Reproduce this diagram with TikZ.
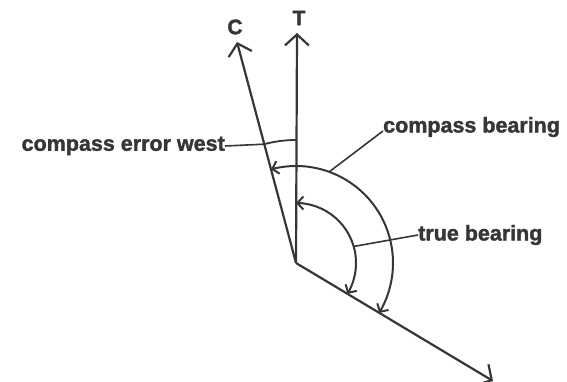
\documentclass[tikz,border=0pt]{standalone}
\usepackage{fontspec}
\setsansfont{Liberation Sans}[BoldFeatures={FakeBold=1.6}]
\usepackage{tikz}
\usetikzlibrary{arrows.meta,bending,positioning}
\definecolor{ink}{HTML}{363636}
\tikzset{
  axis/.style={draw=ink, line width=2.2pt, -{Straight Barb[length=11pt,width=24pt,line width=2.2pt]}},
  sweep/.style={draw=ink, line width=2pt, {Straight Barb[length=6pt,width=13pt,line width=2pt]}-{Straight Barb[length=6pt,width=13pt,line width=2pt]}},
  errarc/.style={draw=ink, line width=1.8pt},
  leader/.style={draw=ink, line width=1.6pt},
  lbl/.style={text=ink, inner sep=0pt, font=\sffamily\bfseries\fontsize{21.5}{24}\selectfont},
  dirlbl/.style={lbl, font=\sffamily\bfseries\fontsize{21}{24}\selectfont}
}
\begin{document}
\begin{tikzpicture}[x=1pt, y=1pt]
  \useasboundingbox (0,0) rectangle (567,382);
  \coordinate (o) at (296,119);
  \coordinate (ttip) at (297,349);
  \coordinate (ctip) at (237,340);
  \coordinate (btip) at (493,1);
  \draw[axis] (o) -- (ttip);
  \draw[axis] (o) -- (ctip);
  \draw[axis] (o) -- (btip);
  \node[dirlbl] (cl) at (235,355) {C};
  \node[dirlbl] (tl) at (299,364) {T};
  \draw[sweep] ([shift={(90:60)}]o) arc[start angle=90, end angle=-31, radius=60];
  \draw[sweep] ([shift={(105:97)}]o) arc[start angle=105, end angle=-31, radius=97];
  \draw[errarc] ([shift={(105:123)}]o) arc[start angle=105, end angle=90, radius=123];
  \coordinate (errfoot) at ([shift={(105:123)}]o);
  \coordinate (cbfoot) at ([shift={(70:97)}]o);
  \coordinate (tbfoot) at ([shift={(16:60)}]o);
  \node[lbl, anchor=east] (cew) at (225,236) {compass error west};
  \node[lbl, anchor=west] (cb) at (383,255) {compass bearing};
  \node[lbl, anchor=west] (tb) at (418,147) {true bearing};
  \draw[leader] (cew.east) -- (errfoot);
  \draw[leader] (cbfoot) -- ([yshift=-4pt]cb.west);
  \draw[leader] (tbfoot) -- (tb.west);
\end{tikzpicture}
\end{document}
